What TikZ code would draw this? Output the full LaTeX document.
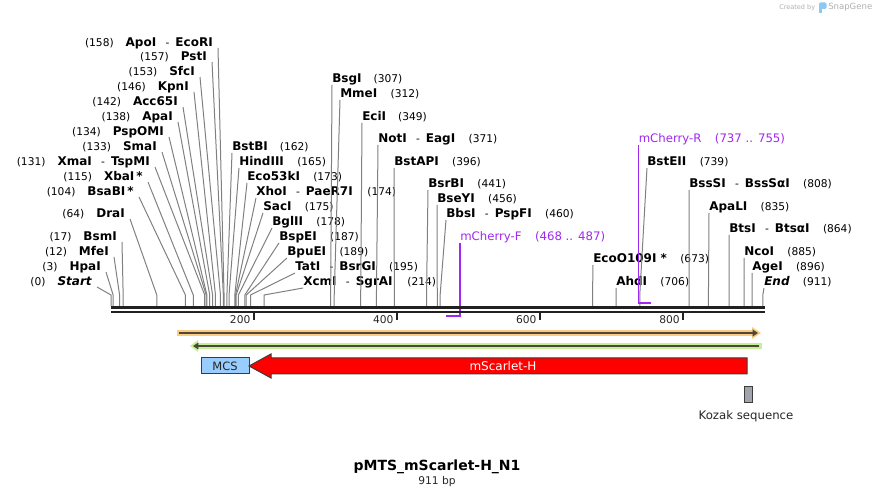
\documentclass[tikz,border=0pt]{standalone}
\usepackage{fontspec}
\setmainfont{DejaVu Sans}
\usetikzlibrary{arrows.meta}
\definecolor{cutgray}{RGB}{128,128,128}
\definecolor{primer}{RGB}{160,40,240}
\definecolor{orfhalo}{RGB}{250,204,128}
\definecolor{orfgreen}{RGB}{196,240,150}
\definecolor{orfline}{RGB}{80,70,60}
\definecolor{mcsblue}{RGB}{153,204,255}
\definecolor{kozakgray}{RGB}{160,165,172}
\definecolor{featline}{RGB}{60,60,60}
\definecolor{creditgray}{RGB}{175,175,175}
\definecolor{snapblue}{RGB}{140,200,240}
\newcommand{\enz}[1]{{\fontsize{9}{10}\selectfont\bfseries #1}}
\newcommand{\sitepos}[1]{{\fontsize{8}{9}\selectfont(#1)}}
\newcommand{\andcut}{\hspace{7pt}-\hspace{4.5pt}}
\tikzset{
  labl/.style={anchor=east, inner sep=0pt},
  labr/.style={anchor=west, inner sep=0pt},
  cut/.style={draw=cutgray, line width=0.75pt},
  primerline/.style={draw=primer, line width=1pt},
  primerbar/.style={draw=primer, line width=1.6pt},
  feat/.style={draw=featline, line width=0.75pt},
}
\begin{document}
\begin{tikzpicture}[x=0.75pt, y=-0.75pt,
    every node/.style={font=\fontsize{8}{9.6}\selectfont}]
  \useasboundingbox (0,0) rectangle (876,498);

  % labels left of their sites
  \node[labl] (ApoI)   at (213,43)  {\sitepos{158}\hspace{9pt}\enz{ApoI}\andcut\enz{EcoRI}};
  \node[labl] (PstI)   at (207,57)  {\sitepos{157}\hspace{9pt}\enz{PstI}};
  \node[labl] (SfcI)   at (195,72)  {\sitepos{153}\hspace{9pt}\enz{SfcI}};
  \node[labl] (KpnI)   at (189,87)  {\sitepos{146}\hspace{9pt}\enz{KpnI}};
  \node[labl] (Acc65I) at (178,102) {\sitepos{142}\hspace{9pt}\enz{Acc65I}};
  \node[labl] (ApaI)   at (173,117) {\sitepos{138}\hspace{9pt}\enz{ApaI}};
  \node[labl] (PspOMI) at (164,132) {\sitepos{134}\hspace{9pt}\enz{PspOMI}};
  \node[labl] (SmaI)   at (157,147) {\sitepos{133}\hspace{9pt}\enz{SmaI}};
  \node[labl] (XmaI)   at (150,162) {\sitepos{131}\hspace{9pt}\enz{XmaI}\andcut\enz{TspMI}};
  \node[labl] (XbaI)   at (143,177) {\sitepos{115}\hspace{9pt}\enz{XbaI\,*}};
  \node[labl] (BsaBI)  at (134,192) {\sitepos{104}\hspace{9pt}\enz{BsaBI\,*}};
  \node[labl] (DraI)   at (125,214) {\sitepos{64}\hspace{9pt}\enz{DraI}};
  \node[labl] (BsmI)   at (117,237) {\sitepos{17}\hspace{9pt}\enz{BsmI}};
  \node[labl] (MfeI)   at (109,252) {\sitepos{12}\hspace{9pt}\enz{MfeI}};
  \node[labl] (HpaI)   at (101,267) {\sitepos{3}\hspace{9pt}\enz{HpaI}};
  \node[labl] (Start)  at (92,282)  {\sitepos{0}\hspace{9pt}\enz{\itshape Start}};

  % labels right of their sites
  \node[labr] (BstBI)    at (232,147) {\enz{BstBI}\hspace{9pt}\sitepos{162}};
  \node[labr] (HindIII)  at (239,162) {\enz{HindIII}\hspace{10pt}\sitepos{165}};
  \node[labr] (Eco53kI)  at (247,177) {\enz{Eco53kI}\hspace{10pt}\sitepos{173}};
  \node[labr] (XhoI)     at (256,192) {\enz{XhoI}\andcut\enz{PaeR7I}\hspace{11pt}\sitepos{174}};
  \node[labr] (SacI)     at (263,207) {\enz{SacI}\hspace{10pt}\sitepos{175}};
  \node[labr] (BglII)    at (272,222) {\enz{BglII}\hspace{10pt}\sitepos{178}};
  \node[labr] (BspEI)    at (279,237) {\enz{BspEI}\hspace{10pt}\sitepos{187}};
  \node[labr] (BpuEI)    at (287,252) {\enz{BpuEI}\hspace{10pt}\sitepos{189}};
  \node[labr] (TatI)     at (295,267) {\enz{TatI}\andcut\enz{BsrGI}\hspace{10pt}\sitepos{195}};
  \node[labr] (XcmI)     at (303,282) {\enz{XcmI}\andcut\enz{SgrAI}\hspace{11pt}\sitepos{214}};
  \node[labr] (BsgI)     at (332,79)  {\enz{BsgI}\hspace{9pt}\sitepos{307}};
  \node[labr] (MmeI)     at (340,94)  {\enz{MmeI}\hspace{10pt}\sitepos{312}};
  \node[labr] (EciI)     at (362,117) {\enz{EciI}\hspace{9pt}\sitepos{349}};
  \node[labr] (NotI)     at (378,139) {\enz{NotI}\andcut\enz{EagI}\hspace{10pt}\sitepos{371}};
  \node[labr] (BstAPI)   at (394,162) {\enz{BstAPI}\hspace{10pt}\sitepos{396}};
  \node[labr] (BsrBI)    at (428,184) {\enz{BsrBI}\hspace{10pt}\sitepos{441}};
  \node[labr] (BseYI)    at (437,199) {\enz{BseYI}\hspace{10pt}\sitepos{456}};
  \node[labr] (BbsI)     at (446,214) {\enz{BbsI}\andcut\enz{PspFI}\hspace{10pt}\sitepos{460}};
  \node[labr] (EcoO109I) at (593,259) {\enz{EcoO109I *}\hspace{10pt}\sitepos{673}};
  \node[labr] (AhdI)     at (616,282) {\enz{AhdI}\hspace{10pt}\sitepos{706}};
  \node[labr] (BstEII)   at (647,162) {\enz{BstEII}\hspace{10pt}\sitepos{739}};
  \node[labr] (BssSI)    at (689,184) {\enz{BssSI}\andcut\enz{BssSαI}\hspace{10pt}\sitepos{808}};
  \node[labr] (ApaLI)    at (709,207) {\enz{ApaLI}\hspace{10pt}\sitepos{835}};
  \node[labr] (BtsI)     at (729,229) {\enz{BtsI}\andcut\enz{BtsαI}\hspace{10pt}\sitepos{864}};
  \node[labr] (NcoI)     at (744,252) {\enz{NcoI}\hspace{10pt}\sitepos{885}};
  \node[labr] (AgeI)     at (752,267) {\enz{AgeI}\hspace{10pt}\sitepos{896}};
  \node[labr] (End)      at (764,282) {\enz{\itshape End}\hspace{10pt}\sitepos{911}};

  % cut site connectors
  \foreach \n/\b in {ApoI/158, PstI/157, SfcI/153, KpnI/146, Acc65I/142, ApaI/138,
      PspOMI/134, SmaI/133, XmaI/131, XbaI/115, BsaBI/104, DraI/64, BsmI/17,
      MfeI/12, HpaI/3, Start/0} {
    \coordinate (s\n) at ({111+0.7155*\b},295);
    \draw[cut] ([shift={(5,5)}]\n.east) -- (s\n) -- ++(0,11);
  }
  \foreach \n/\b in {BstBI/162, HindIII/165, Eco53kI/173, XhoI/174, SacI/175,
      BglII/178, BspEI/187, BpuEI/189, TatI/195, XcmI/214, BsgI/307, MmeI/312,
      EciI/349, NotI/371, BstAPI/396, BsrBI/441, BseYI/456, BbsI/460,
      EcoO109I/673, AhdI/706, BstEII/739, BssSI/808, ApaLI/835, BtsI/864,
      NcoI/885, AgeI/896, End/911} {
    \coordinate (s\n) at ({111+0.7155*\b},295);
    \draw[cut] ([shift={(0,6)}]\n.west) -- (s\n) -- ++(0,11);
  }

  % primers
  \node[labr, text=primer, font=\fontsize{8.8}{10}\selectfont] (mchF) at (460,237)
    {mCherry-F\hspace{10pt}(468 .. 487)};
  \node[labr, text=primer, font=\fontsize{8.8}{10}\selectfont] (mchR) at (638.5,139)
    {mCherry-R\hspace{10pt}(737 .. 755)};
  \coordinate (pF1) at ({111+0.7155*468},316);
  \coordinate (pF2) at (460,316);
  \coordinate (pR1) at (638.5,302.7);
  \coordinate (pR2) at ({111+0.7155*755},302.7);
  \draw[primerline] ([shift={(0,6)}]mchF.west) -- (pF2);
  \draw[primerbar] (pF1) -- ([shift={(0.6,0)}]pF2);
  \draw[primerline] ([shift={(0,6)}]mchR.west) -- (pR1);
  \draw[primerbar] ([shift={(-0.6,0)}]pR1) -- (pR2);

  % backbone and ticks
  \draw[line width=2pt, black!87] (111,307.3) -- (765,307.3);
  \draw[line width=1.5pt, black!87] (111,311.7) -- (765,311.7);
  \foreach \t in {200,400,600,800} {
    \draw[line width=1.5pt, black!87] ({111+0.7155*\t},312) -- ++(0,8);
    \node[anchor=east, inner sep=0pt, text=black!85] (t\t) at ({107.5+0.7155*\t},319.5) {\t};
  }

  % open reading frames
  \fill[orfhalo] (177,330) rectangle (753,336);
  \fill[orfhalo] (752,327) -- (761,333) -- (752,339) -- cycle;
  \draw[orfline, line width=1.5pt, -{Triangle[length=4pt,width=5pt]}] (179,333) -- (758,333);
  \fill[orfgreen] (197,343.3) rectangle (762,348.8);
  \fill[orfgreen] (198,340) -- (190,346) -- (198,352) -- cycle;
  \draw[orfline, line width=1.5pt, -{Triangle[length=4pt,width=5pt]}] (759,346) -- (193,346);

  % features
  \node[feat, fill=mcsblue, minimum width=36pt, minimum height=12pt, inner sep=0pt,
    font=\fontsize{8.6}{10}\selectfont, text=black!85] (MCS) at (225,366) {MCS};
  \draw[feat, fill=red] (249,366) -- (271,354) -- (271,358) -- (747,358) -- (747,374)
    -- (271,374) -- (271,378) -- cycle;
  \node[text=white, font=\fontsize{9}{10}\selectfont] (mScarlet) at (503,366) {mScarlet-H};
  \node[feat, fill=kozakgray, minimum width=6pt, minimum height=12pt, inner sep=0pt]
    (kozak) at (748,395) {};
  \node[font=\fontsize{8.8}{10}\selectfont, text=black!85] (kozakLabel) at (746,416) {Kozak sequence};

  % title
  \node[font=\fontsize{10.5}{12}\selectfont\bfseries] (title) at (437,467) {pMTS\_mScarlet-H\_N1};
  \node[text=black!85] (size) at (437,482) {911 bp};

  % credit
  \node[anchor=west, inner sep=0pt, text=creditgray, font=\fontsize{4.9}{6}\selectfont]
    (credit) at (779,7.5) {Created by};
  \fill[snapblue, rounded corners=1pt] (819,2.5) rectangle (826.5,9);
  \fill[snapblue] (819,8) rectangle (822,13);
  \node[anchor=west, inner sep=0pt, text=creditgray, font=\fontsize{6.4}{7}\selectfont]
    (snapgene) at (828,7.5) {SnapGene};
\end{tikzpicture}
\end{document}
